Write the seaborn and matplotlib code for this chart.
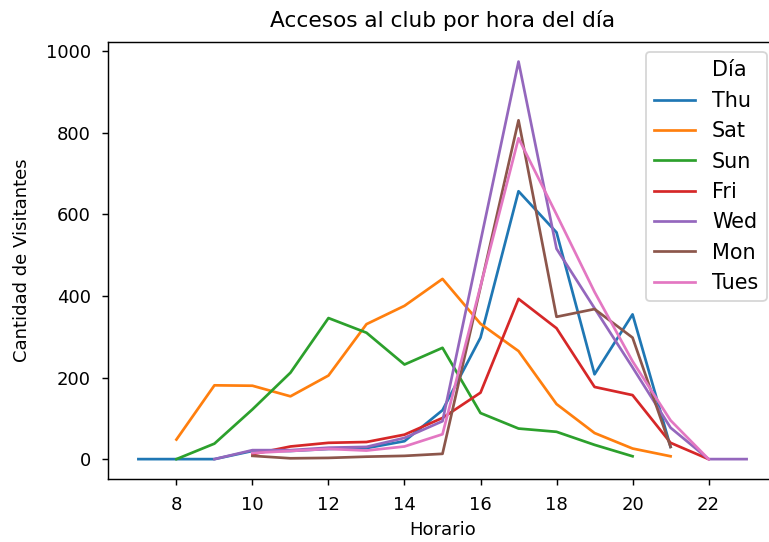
import numpy as np
import pandas as pd
import matplotlib
matplotlib.use('Agg')
import matplotlib.pyplot as plt
import seaborn as sns
from matplotlib.lines import Line2D

# accesos por hora
dias = ['Thu', 'Sat', 'Sun', 'Fri', 'Wed', 'Mon', 'Tues']

horas_thu = list(range(7, 22))
thu = [0, 0, 0, 20, 20, 25, 27, 44, 120, 298, 657, 556, 208, 355, 30]

horas_sat = list(range(8, 22))
sat = [48, 181, 180, 154, 205, 331, 376, 442, 332, 265, 135, 64, 26, 7]

horas_sun = list(range(8, 21))
sun = [0, 38, 122, 212, 346, 310, 232, 273, 113, 75, 67, 35, 7]

horas_fri = list(range(10, 23))
fri = [12, 31, 40, 42, 60, 101, 163, 393, 321, 177, 157, 40, 0]

horas_wed = list(range(9, 24))
wed = [0, 22, 22, 28, 30, 52, 93, 534, 975, 516, 370, 225, 77, 0, 0]

horas_mon = list(range(10, 22))
mon = [8, 2, 3, 6, 8, 13, 422, 831, 349, 368, 298, 30]

horas_tues = list(range(10, 23))
tues = [15, 20, 25, 21, 31, 61, 424, 787, 600, 410, 240, 95, 0]

series = {
    'Thu': (horas_thu, thu),
    'Sat': (horas_sat, sat),
    'Sun': (horas_sun, sun),
    'Fri': (horas_fri, fri),
    'Wed': (horas_wed, wed),
    'Mon': (horas_mon, mon),
    'Tues': (horas_tues, tues),
}

filas = []
for dia in dias:
    hs, vs = series[dia]
    for h, v in zip(hs, vs):
        filas.append({'Horario': h, 'Visitantes': v, 'Día': dia})
df = pd.DataFrame(filas)

fig = plt.figure(figsize=(769 / 130, 542 / 130), dpi=130)
ax = fig.add_axes([108 / 769, 1 - 479 / 542, (777 - 108) / 769, (479 - 41.7) / 542])

sns.lineplot(data=df, x='Horario', y='Visitantes', hue='Día', hue_order=dias,
             palette='tab10', ax=ax)

ax.set_title('Accesos al club por hora del día', fontsize=12, pad=8)
ax.set_xlabel('Horario')
ax.set_ylabel('Cantidad de Visitantes', labelpad=8)
ax.set_xticks([8, 10, 12, 14, 16, 18, 20, 22])
ax.tick_params(pad=6)

# leyenda al estilo viejo de seaborn: el titulo como una entrada mas
leg = ax.get_legend()
handles = list(leg.legend_handles)
labels = [t.get_text() for t in leg.get_texts()]
blank = Line2D([], [], linestyle='none')
ax.legend(handles=[blank] + handles, labels=['Día'] + labels, loc='upper right',
          fontsize=11.5)

fig.savefig('out.png', dpi=130)
